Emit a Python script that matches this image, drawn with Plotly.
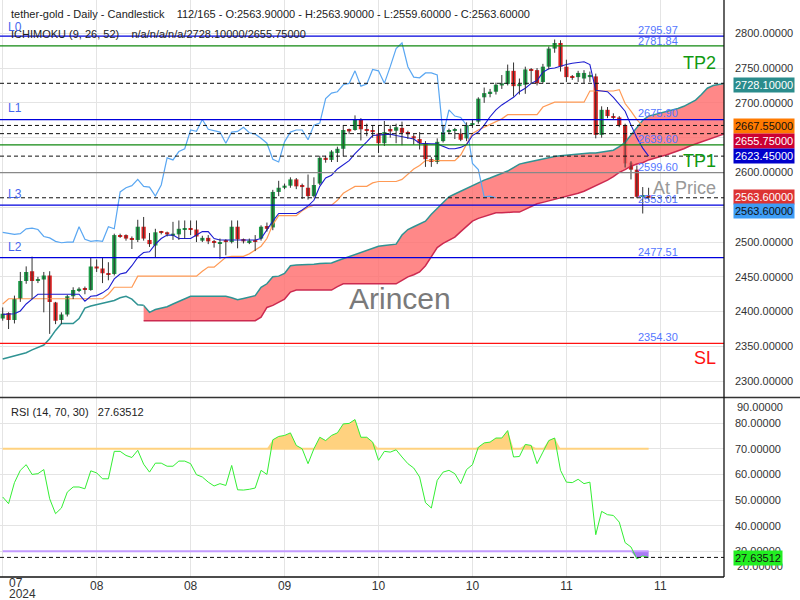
import plotly.graph_objects as go

# ---------------- data ----------------
opens = [2390,2398,2388,2418,2444,2458,2445,2446,2452,2413,2388,2396,2422,2431,2433,2431,2465,2462,2455,2454,
         2510,2510,2505,2503,2522,2503,2495,2515,2514,2509,2511,2518,2520,2518,2502,2506,2501,2498,2502,2500,
         2522,2503,2500,2502,2505,2523,2521,2572,2578,2581,2590,2581,2578,2566,2584,2621,2618,2628,2634,2661,
         2661,2676,2662,2660,2656,2642,2661,2660,2664,2657,2652,2648,2642,2619,2615,2645,2658,2660,2656,2649,
         2668,2673,2708,2714,2716,2725,2727,2746,2724,2726,2748,2747,2730,2752,2778,2786,2752,2738,2737,2735,
         2737,2738,2654,2690,2681,2679,2668,2614,2604,2565,2567]
highs = [2406,2399,2423,2457,2465,2479,2450,2457,2458,2414,2399,2424,2435,2435,2436,2478,2475,2477,2471,2512,
         2512,2511,2508,2532,2536,2513,2519,2516,2515,2529,2531,2531,2531,2531,2509,2510,2503,2505,2504,2531,
         2531,2505,2505,2510,2524,2528,2575,2588,2584,2593,2592,2584,2597,2593,2624,2624,2632,2637,2668,2663,
         2682,2678,2670,2668,2668,2674,2668,2670,2673,2660,2655,2658,2645,2622,2649,2668,2663,2664,2663,2672,
         2676,2708,2722,2720,2729,2740,2755,2758,2735,2752,2750,2750,2756,2781,2791,2790,2762,2740,2746,2747,
         2745,2742,2695,2694,2685,2681,2670,2616,2610,2579,2578]
lows = [2387,2375,2383,2414,2440,2418,2441,2399,2368,2382,2382,2393,2418,2428,2425,2430,2457,2441,2445,2452,
        2506,2502,2490,2500,2502,2493,2478,2511,2508,2503,2503,2505,2510,2500,2500,2497,2492,2476,2481,2498,
        2491,2498,2497,2487,2502,2515,2517,2566,2576,2578,2576,2562,2561,2564,2582,2614,2615,2615,2623,2655,
        2660,2646,2652,2650,2628,2638,2650,2642,2639,2648,2640,2633,2608,2608,2612,2643,2655,2648,2645,2645,
        2664,2670,2700,2708,2712,2720,2725,2709,2712,2713,2727,2725,2728,2748,2772,2745,2730,2733,2730,2728,
        2730,2649,2650,2678,2676,2665,2607,2590,2563,2541,2559.6]
closes = [2397,2388,2418,2444,2457,2444,2447,2452,2414,2387,2396,2422,2431,2433,2432,2465,2462,2455,2454,2510,
          2508,2505,2504,2522,2505,2497,2514,2513,2511,2512,2519,2520,2518,2508,2506,2501,2499,2500,2500,2522,
          2504,2501,2502,2501,2522,2519,2572,2578,2581,2590,2580,2579,2566,2582,2621,2618,2630,2634,2661,2659,
          2676,2662,2660,2658,2642,2658,2659,2665,2657,2655,2649,2642,2619,2615,2644,2658,2661,2661,2647,2668,
          2671,2706,2714,2716,2726,2728,2746,2724,2727,2748,2746,2728,2752,2778,2786,2752,2737,2736,2743,2743,
          2740,2654,2690,2681,2679,2668,2613,2604,2565,2566,2563.6]

tenkan = [2396,2396,2397,2401,2411,2418,2425,2425,2425,2425,2425,2425,2425,2425,2415,2422,2423,2427,2433,2447,
          2454,2456,2466,2478,2485,2486,2497,2505,2510,2510,2505,2505,2505,2510,2515,2515,2505,2503,2503,2503,
          2503,2503,2503,2503,2505,2518,2530,2541,2541,2541,2541,2546,2552,2560,2580,2592,2596,2605,2611,2617,
          2627,2635,2644,2653,2654,2655,2655,2653,2651,2650,2648,2642,2641,2641,2641,2638,2634,2634,2636,2640,
          2653,2658,2668,2680,2690,2697,2702,2708,2716,2721,2728,2732,2744,2749,2750,2753,2755,2757,2758,2759,
          2755,2718,2717,2716,2708,2698,2688,2668,2650,2635,2623.45]
kijun = [2411,2418.5,2418.5,2418.5,2418.5,2418.5,2418.5,2418.5,2418.5,2418.5,2418.5,2418.5,2418.5,2418.5,2418.5,
         2418.5,2418.5,2418.5,2425,2435,2435,2435,2435,2451,2451,2451,2451,2451,2451,2451,2451,2451,2451,2451,
         2458,2464,2464,2471,2478,2479.5,2479.5,2479.5,2483,2488,2494,2505,2525,2538,2538,2538,2538,2545,2550,
         2553,2553,2553,2553,2560,2570,2575,2580,2580,2580,2585,2587,2587,2587,2587,2590,2598,2605,2610,2617,
         2617,2617,2617,2617,2617,2625,2640,2656,2661,2665,2670,2673,2677,2683,2683,2683,2683,2683,2683,2694,
         2697,2701,2701,2701,2701,2701,2701,2717,2717,2717,2717,2717,2719,2699,2688,2676,2667,2667.55]

# Senkou spans, already displaced 26 bars forward (index 0..123)
span_a = [2332,2334,2336,2338,2341,2345,2348,2352,2361,2373,2383,2383,2383,2390,2405,2408,2410,2413,2415,2416,
          2420,2422,2418,2410,2409,2399,2403,2405,2407,2411,2415,2418,2422,2422,2422,2422,2422,2422,2422,2420,
          2417,2419,2421,2423,2435,2440,2450,2451,2455,2466,2467,2467,2468,2468,2469,2470,2470,2473,2476,2479,
          2482,2484,2488,2491,2494,2495,2496,2497,2510,2518,2522,2526,2530,2540,2548,2557,2565,2569,2573,2578,
          2582,2585,2589,2592,2595,2598,2602,2607,2612,2614,2616,2618,2619,2621,2623,2624,2625,2626,2627,2627,
          2628,2628,2629,2630,2632,2637,2643,2654,2665,2675,2681,2683,2685,2687,2690,2692,2695,2699,2704,2712,
          2721,2725,2727,2728.1]
span_b = [None]*24 + [2387]*20 + [2392,2406,2409,2413,2418,2428,2431,2431,2431,2431,2431,2431,2431,2436,2440,
          2440,2440,2440,2440,2440,2440,2440,2440,2440,2445,2450,2453,2457,2466,2480,2492,2498,2503,2507,2515,
          2522,2530,2534,2537,2540,2542,2542,2543,2543,2543,2547,2551,2555,2557,2559,2562,2564,2566,2568,2570,
          2573,2577,2580,2584,2589,2594,2600,2604,2609,2612,2614,2618,2621,2623,2625,2628,2630,2634,2638,2641,
          2644,2646,2649,2653,2655.75]

rsi = [51.2,48.6,56.8,61.6,63.8,60.0,60.3,61.9,50.5,44.7,46.9,53.1,55.1,55.1,54.4,61.4,60.6,58.3,58.3,69.0,
       69.0,67.4,66.6,69.4,64.0,60.9,64.4,64.4,63.2,63.2,65.2,65.2,64.2,59.9,59.0,57.0,55.5,56.4,55.7,63.5,
       54.0,53.9,54.2,54.7,61.6,60.0,73.5,74.8,75.2,76.2,71.3,70.0,64.2,70.0,74.5,73.2,75.2,76.2,79.7,79.9,
       81.4,74.5,74.5,72.6,65.5,69.0,68.7,69.6,66.8,64.2,62.5,59.0,49.0,46.9,57.7,60.9,61.6,60.3,56.4,61.9,
       63.8,70.6,72.3,72.6,74.2,74.2,77.1,66.8,67.0,71.7,71.3,64.2,68.7,73.2,74.2,61.6,57.0,56.8,58.1,56.4,
       57.0,36.5,45.6,44.3,44.0,41.4,33.4,31.7,27.1,28.2,27.63512]

x_ticks = [0, 16, 32, 48, 64, 80, 96, 112]
x_tick_text = ["", "08", "08", "09", "10", "10", "11", "11"]
price_ticks = [2300, 2350, 2400, 2450, 2500, 2550, 2600, 2650, 2700, 2750, 2800]
hidden_price_ticks = [2550, 2650]   # covered by value boxes in the reference
rsi_ticks = [30, 40, 50, 60, 70, 80]

levels_blue = {"L0": 2795.97, "L1": 2675.90, "L3": 2553.01, "L2": 2477.51}
tp2, tp1, at_price, sl = 2781.84, 2639.60, 2599.60, 2354.30
dashed_levels = [2728.10, 2667.55, 2655.75, 2623.45, 2563.60]
rsi_last = 27.63512

# ---------------- helpers ----------------
PW, PH = 724, 577
def px(x): return x / PW
def py(y): return (PH - y) / PH

n = len(closes)
idx = list(range(n))
FONT = "Liberation Sans, Arial, sans-serif"
NARROW = "Liberation Sans Narrow, Arial Narrow, sans-serif"

fig = go.Figure()

# Ichimoku cloud
cloud_x = list(range(24, len(span_a)))
fig.add_trace(go.Scatter(x=cloud_x, y=span_b[24:], mode="lines",
                         line=dict(color="#cc2a50", width=1.5), hoverinfo="skip", xaxis="x", yaxis="y"))
fig.add_trace(go.Scatter(x=cloud_x, y=span_a[24:], mode="lines", fill="tonexty",
                         fillcolor="rgba(255,110,110,0.82)",
                         line=dict(color="#2f9393", width=1.5), hoverinfo="skip", xaxis="x", yaxis="y"))
fig.add_trace(go.Scatter(x=list(range(0, 25)), y=span_a[:25], mode="lines",
                         line=dict(color="#2f9393", width=1.5), hoverinfo="skip", xaxis="x", yaxis="y"))

# Chikou span (close displaced 26 bars back)
fig.add_trace(go.Scatter(x=idx[:n - 26], y=closes[26:], mode="lines",
                         line=dict(color="#5aa7f2", width=1.2), hoverinfo="skip", xaxis="x", yaxis="y"))
# Kijun / Tenkan
fig.add_trace(go.Scatter(x=idx, y=kijun, mode="lines",
                         line=dict(color="#ff9a55", width=1.2), hoverinfo="skip", xaxis="x", yaxis="y"))
fig.add_trace(go.Scatter(x=idx, y=tenkan, mode="lines",
                         line=dict(color="#1c1cd0", width=1.1), hoverinfo="skip", xaxis="x", yaxis="y"))

# Candles: wicks + bodies
wx, wy = [], []
for i in idx:
    wx += [i, i, None]
    wy += [lows[i], highs[i], None]
fig.add_trace(go.Scatter(x=wx, y=wy, mode="lines", line=dict(color="#333333", width=1),
                         hoverinfo="skip", xaxis="x", yaxis="y"))
body = []
colors = []
for o, c in zip(opens, closes):
    d = c - o
    if abs(d) < 1.6:
        d = 1.6 if d >= 0 else -1.6
    body.append(d)
    colors.append("#1f9f4a" if c >= o else "#dd2222")
fig.add_trace(go.Bar(x=idx, y=body, base=opens, marker=dict(color=colors, line=dict(width=0)),
                     width=0.72, hoverinfo="skip", xaxis="x", yaxis="y"))

# RSI panel
fig.add_trace(go.Scatter(x=idx, y=[70] * n, mode="lines", line=dict(color="#ffd27f", width=2),
                         hoverinfo="skip", xaxis="x2", yaxis="y2"))
fig.add_trace(go.Scatter(x=idx, y=[max(v, 70) for v in rsi], mode="lines", fill="tonexty",
                         fillcolor="#ffd27f", line=dict(width=0), hoverinfo="skip", xaxis="x2", yaxis="y2"))
fig.add_trace(go.Scatter(x=idx, y=[30] * n, mode="lines", line=dict(color="#c49cff", width=2),
                         hoverinfo="skip", xaxis="x2", yaxis="y2"))
fig.add_trace(go.Scatter(x=idx, y=[min(v, 30) for v in rsi], mode="lines", fill="tonexty",
                         fillcolor="#a87cf5", line=dict(width=0), hoverinfo="skip", xaxis="x2", yaxis="y2"))
fig.add_trace(go.Scatter(x=idx, y=rsi, mode="lines", line=dict(color="#33ee33", width=1),
                         hoverinfo="skip", xaxis="x2", yaxis="y2"))

# ---------------- shapes ----------------
shapes = []
def hline(val, color, width=1, dash="solid", yref="y", xref="x domain"):
    shapes.append(dict(type="line", xref=xref, x0=0, x1=1, yref=yref, y0=val, y1=val,
                       line=dict(color=color, width=width, dash=dash)))
for v in dashed_levels:
    hline(v, "#111111", 1, "4px,3px")
for v in levels_blue.values():
    hline(v, "#0000dd", 1.2)
hline(tp2, "#118811", 1.3)
hline(tp1, "#118811", 1.3)
hline(at_price, "#888888", 1.3)
hline(sl, "#ff1111", 1.3)
hline(rsi_last, "#111111", 1, "4px,3px", yref="y2", xref="x2 domain")
# panel frame lines
shapes.append(dict(type="line", xref="paper", yref="paper", x0=0, x1=800 / PW, y0=py(397.5), y1=py(397.5),
                   line=dict(color="#333333", width=1.3)))
shapes.append(dict(type="line", xref="paper", yref="paper", x0=1, x1=1, y0=0, y1=1,
                   line=dict(color="#111111", width=1.3)))
shapes.append(dict(type="line", xref="paper", yref="paper", x0=0, x1=1, y0=0, y1=0,
                   line=dict(color="#111111", width=1.3)))

# ---------------- annotations ----------------
ann = []
def text(x, y, s, size=11, color="#222", anchor="left", family=FONT, **kw):
    ann.append(dict(xref="paper", yref="paper", x=px(x), y=py(y), text=s, showarrow=False,
                    xanchor=anchor, yanchor="middle", font=dict(size=size, color=color, family=family), **kw))

NB = "\u00a0"
text(9, 14, "tether-gold - Daily - Candlestick" + NB * 4 + "112/165 - O:2563.90000 - H:2563.90000 - L:2559.60000 - C:2563.60000")
text(9, 34, "ICHIMOKU (9, 26, 52)" + NB * 4 + "n/a/n/a/n/a/2728.10000/2655.75000")
text(9, 412, "RSI (14, 70, 30)" + NB * 3 + "27.63512")

for name, y in [("L0", 27), ("L1", 108), ("L3", 194), ("L2", 247)]:
    text(6, y, name, size=12, color="#4466ee")
for s, y in [("2795.97", 30), ("2781.84", 41), ("2675.90", 113), ("2639.60", 139),
             ("2599.60", 167), ("2553.01", 199), ("2477.51", 252), ("2354.30", 337)]:
    text(658, y, s, size=11, color="#5577ff", anchor="center")
text(718, 63, "TP2", size=18, color="#119911", anchor="right")
text(718, 161, "TP1", size=18, color="#119911", anchor="right")
text(718, 188, "At Price", size=18, color="#999999", anchor="right")
text(718, 358, "SL", size=18, color="#ff1111", anchor="right")
text(400, 298, "Arincen", size=30, color="#7a7a7a", anchor="center")

# x-axis first label
text(7, 583, "07", size=12, color="#333", family=NARROW)
text(7, 594, "2024", size=12, color="#333", family=NARROW)

# RSI extreme tick labels
text(735, 407, "90.00000", size=11, color="#333")
text(735, 566, "20.00000", size=11, color="#333")

# value boxes
def box(val, y, s, bg, fg, yref="y"):
    ann.append(dict(xref="paper", yref=yref, x=1, y=val, xanchor="left", yanchor="middle",
                    xshift=9, yshift=y, text=s, showarrow=False, bgcolor=bg, borderpad=1,
                    font=dict(size=11, color=fg, family=FONT)))
box(2728.10, -2, "2728.10000", "#2a8c8c", "#ffffff")
box(2667.55, -1, "2667.55000", "#ff7a00", "#111111")
box(2655.75, -7, "2655.75000", "#cc0033", "#ffffff")
box(2623.45, 0, "2623.45000", "#0000cc", "#ffffff")
box(2563.60, 1, "2563.60000", "#dd3333", "#ffffff")
box(2563.60, -13, "2563.60000", "#3d9cf5", "#111111")
box(rsi_last, -1, "27.63512", "#22ee22", "#111111", yref="y2")

grid = "#e4e4e4"
split = 1 - 397.5 / PH
price_text = ["" if v in hidden_price_ticks else f"{v:.5f}" for v in price_ticks]
fig.update_layout(
    width=800, height=600, margin=dict(l=0, r=76, t=0, b=23),
    paper_bgcolor="white", plot_bgcolor="white", showlegend=False, barmode="overlay",
    font=dict(family=FONT, size=11, color="#333"),
    xaxis=dict(domain=[0, 1], anchor="y", range=[-0.46, 122.84], tickvals=x_ticks, showticklabels=False,
               showgrid=True, gridcolor=grid, zeroline=False, fixedrange=True),
    xaxis2=dict(domain=[0, 1], anchor="y2", range=[-0.46, 122.84], tickvals=x_ticks, ticktext=x_tick_text,
                showgrid=True, gridcolor=grid, zeroline=False, ticks="",
                tickfont=dict(size=12, color="#333", family=NARROW)),
    yaxis=dict(domain=[split, 1], anchor="x", side="right", range=[2276.6, 2847.8], tickvals=price_ticks,
               ticktext=price_text, showgrid=True, gridcolor=grid, zeroline=False, ticks="",
               ticklabelstandoff=10, tickfont=dict(size=11, color="#333")),
    yaxis2=dict(domain=[0, split], anchor="x2", side="right", range=[20, 90], tickvals=rsi_ticks + [20, 90],
                ticktext=[f"{v:.5f}" for v in rsi_ticks] + ["", ""], showgrid=True, gridcolor=grid,
                zeroline=False, ticks="", ticklabelstandoff=10, tickfont=dict(size=11, color="#333")),
    shapes=shapes, annotations=ann,
)

fig.write_html("out.html", config={"displayModeBar": False},
               post_script="document.body.style.margin='0px';document.body.style.overflow='hidden';")
